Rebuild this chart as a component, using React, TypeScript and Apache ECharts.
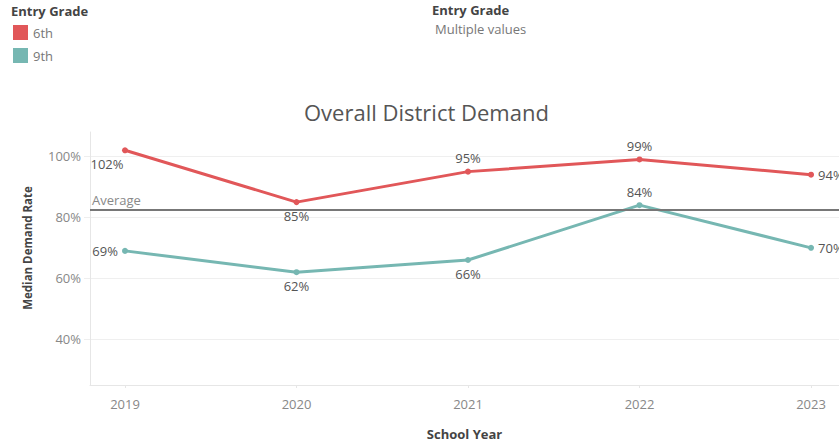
import React, { useEffect, useRef } from "react";
import * as echarts from "echarts";

const years = [2019, 2020, 2021, 2022, 2023];
const sixth = [102, 85, 95, 99, 94];
const ninth = [69, 62, 66, 84, 70];
const yTicks = [40, 60, 80, 100];
const sixthLabelPos = ["bottom", "bottom", "top", "top", "right"];
const ninthLabelPos = ["left", "bottom", "bottom", "top", "right"];

const FONT = "'Open Sans', 'Noto Sans', sans-serif";
const RED = "#e15759";
const TEAL = "#76b7b2";

export default function App() {
  const ref = useRef<HTMLDivElement>(null);
  useEffect(() => {
    if (!ref.current) return;
    const chart = echarts.init(ref.current, null, { renderer: "svg" });
    const all = [...sixth, ...ninth];
    const avg = all.reduce((a, b) => a + b, 0) / all.length;
    const mk = (vals: number[], pos: string[]) =>
      vals.map((v, i) => ({
        value: [years[i], v],
        label: {
          position: pos[i],
          distance: 4,
          offset: i === 0 && pos[i] === "bottom" ? [-18, 0] : [0, 0],
        },
      }));
    chart.setOption({
      animation: false,
      textStyle: { fontFamily: FONT },
      title: {
        text: "Overall District Demand",
        left: 299,
        top: 96,
        textStyle: { fontFamily: FONT, fontSize: 22, fontWeight: "normal", color: "#555" },
      },
      legend: {
        orient: "vertical",
        left: 8,
        top: 20,
        itemWidth: 15,
        itemHeight: 15,
        itemGap: 8,
        icon: "rect",
        data: ["6th", "9th"],
        textStyle: { fontFamily: FONT, fontSize: 13, color: "#777" },
      },
      graphic: [
        {
          type: "text",
          left: 11,
          top: 4,
          style: { text: "Entry Grade", font: `bold 13px ${FONT}`, fill: "#444" },
        },
        {
          type: "text",
          left: 432,
          top: 3,
          style: { text: "Entry Grade", font: `bold 13px ${FONT}`, fill: "#444" },
        },
        {
          type: "text",
          left: 435,
          top: 22,
          style: { text: "Multiple values", font: `13px ${FONT}`, fill: "#777" },
        },
        {
          type: "text",
          x: 27,
          y: 248,
          rotation: Math.PI / 2,
          style: {
            text: "Median Demand Rate",
            font: `bold 11.5px ${FONT}`,
            fill: "#444",
            align: "center",
            verticalAlign: "middle",
          },
        },
      ],
      grid: { left: 90, right: 0, top: 132, bottom: 55, containLabel: false },
      xAxis: {
        type: "value",
        min: 2018.796,
        max: 2023.163,
        name: "School Year",
        nameLocation: "middle",
        nameGap: 42,
        nameTextStyle: { fontFamily: FONT, fontSize: 13, fontWeight: "bold", color: "#444" },
        axisLine: { show: true, lineStyle: { color: "#e6e6e6" } },
        axisTick: { show: true, length: 3, lineStyle: { color: "#e6e6e6" }, customValues: years },
        axisLabel: {
          customValues: years,
          formatter: (v: number) => String(v),
          fontSize: 13,
          color: "#888",
          margin: 12,
        },
        splitLine: { show: false },
      },
      yAxis: {
        type: "value",
        min: 25,
        max: 108,
        axisLine: { show: true, lineStyle: { color: "#e6e6e6" } },
        axisTick: { show: true, length: 6, lineStyle: { color: "#eeeeee" }, customValues: yTicks },
        axisLabel: {
          customValues: yTicks,
          formatter: (v: number) => `${v}%`,
          fontSize: 13,
          color: "#888",
          margin: 9,
        },
        splitLine: { show: true, lineStyle: { color: "#efefef" } },
      },
      series: [
        {
          name: "6th",
          type: "line",
          data: mk(sixth, sixthLabelPos),
          color: RED,
          lineStyle: { width: 3, color: RED },
          symbol: "circle",
          symbolSize: 6,
          label: {
            show: true,
            formatter: (p: any) => `${p.value[1]}%`,
            fontSize: 13,
            color: "#555",
            fontFamily: FONT,
          },
          markLine: {
            silent: true,
            symbol: "none",
            data: [{ yAxis: avg }],
            lineStyle: { color: "#777", width: 2, type: "solid" },
            label: {
              show: true,
              position: "insideStartTop",
              formatter: "Average",
              fontSize: 13,
              color: "#888",
              fontFamily: FONT,
              distance: [2, 3],
            },
          },
          z: 3,
        },
        {
          name: "9th",
          type: "line",
          data: mk(ninth, ninthLabelPos),
          color: TEAL,
          lineStyle: { width: 3, color: TEAL },
          symbol: "circle",
          symbolSize: 6,
          label: {
            show: true,
            formatter: (p: any) => `${p.value[1]}%`,
            fontSize: 13,
            color: "#555",
            fontFamily: FONT,
          },
          z: 3,
        },
      ],
    });
    return () => chart.dispose();
  }, []);
  return (
    <div
      ref={ref}
      style={{ position: "fixed", left: 0, top: 0, width: 839, height: 445, background: "#fff" }}
    />
  );
}
